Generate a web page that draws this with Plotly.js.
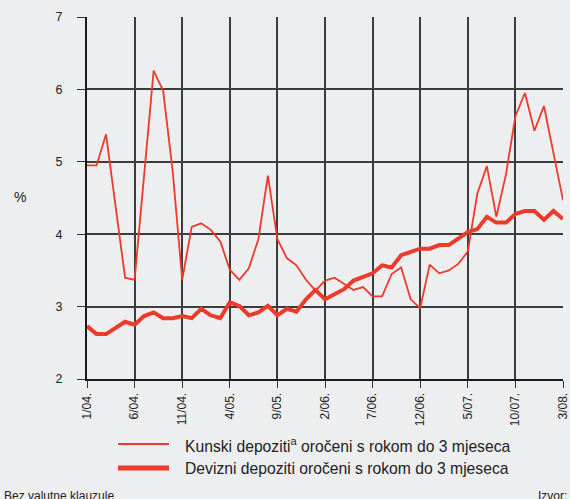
<!DOCTYPE html>
<html>
<head>
<meta charset="utf-8">
<script src="https://cdn.plot.ly/plotly-3.0.1.min.js"></script>
<style>
  html, body { margin: 0; padding: 0; background: #edeef0; }
  #chart { width: 570px; height: 499px; }
</style>
</head>
<body>
<div id="chart"></div>
<script>
const months = [
  "1/04.","2/04.","3/04.","4/04.","5/04.","6/04.","7/04.","8/04.","9/04.","10/04.","11/04.","12/04.",
  "1/05.","2/05.","3/05.","4/05.","5/05.","6/05.","7/05.","8/05.","9/05.","10/05.","11/05.","12/05.",
  "1/06.","2/06.","3/06.","4/06.","5/06.","6/06.","7/06.","8/06.","9/06.","10/06.","11/06.","12/06.",
  "1/07.","2/07.","3/07.","4/07.","5/07.","6/07.","7/07.","8/07.","9/07.","10/07.","11/07.","12/07.",
  "1/08.","2/08.","3/08."
];

const tickLabels = ["1/04.","6/04.","11/04.","4/05.","9/05.","2/06.","7/06.","12/06.","5/07.","10/07.","3/08."];
const yTicks = [2, 3, 4, 5, 6, 7];

const kunski = [
  4.95, 4.95, 5.38, 4.35, 3.40, 3.37, 4.82, 6.26, 5.98, 4.87, 3.37, 4.10,
  4.15, 4.06, 3.90, 3.51, 3.37, 3.53, 3.93, 4.81, 3.93, 3.67, 3.57, 3.37,
  3.22, 3.36, 3.40, 3.32, 3.23, 3.27, 3.14, 3.14, 3.45, 3.54, 3.10, 2.98,
  3.58, 3.46, 3.50, 3.59, 3.76, 4.56, 4.94, 4.24, 4.82, 5.63, 5.95, 5.43,
  5.77, 5.12, 4.47
];

const devizni = [
  2.73, 2.62, 2.62, 2.70, 2.79, 2.75, 2.87, 2.92, 2.84, 2.84, 2.87, 2.84,
  2.97, 2.88, 2.84, 3.06, 3.01, 2.88, 2.92, 3.01, 2.88, 2.97, 2.93, 3.10,
  3.23, 3.10, 3.17, 3.24, 3.36, 3.41, 3.46, 3.57, 3.54, 3.71, 3.76, 3.80,
  3.80, 3.85, 3.85, 3.94, 4.03, 4.07, 4.24, 4.16, 4.16, 4.28, 4.32, 4.32,
  4.20, 4.32, 4.21
];

const seriesNames = [
  "Kunski depoziti<sup>a</sup> oročeni s rokom do 3 mjeseca",
  "Devizni depoziti oročeni s rokom do 3 mjeseca"
];

const red = "#ec3a2b";
const gridCol = "#3c3c3c";
const font = "Liberation Sans, Arial, sans-serif";

const W = 570, H = 499;
const mL = 87, mR = 7, mT = 17, mB = 120;
const pw = W - mL - mR, ph = H - mT - mB;
const px = x => (x - mL) / pw;
const py = y => (H - mB - y) / ph;

const traces = [
  { x: months, y: kunski, type: "scatter", mode: "lines", name: seriesNames[0],
    line: { color: red, width: 1.8 }, hoverinfo: "skip" },
  { x: months, y: devizni, type: "scatter", mode: "lines", name: seriesNames[1],
    line: { color: red, width: 4 }, hoverinfo: "skip" }
];

const layout = {
  width: W, height: H,
  margin: { l: mL, r: mR, t: mT, b: mB },
  paper_bgcolor: "#edeef0",
  plot_bgcolor: "#edeef0",
  showlegend: false,
  font: { family: font, size: 12, color: "#222" },
  xaxis: {
    type: "category",
    categoryorder: "array",
    categoryarray: months,
    range: [0, months.length - 1],
    tickmode: "array",
    tickvals: tickLabels,
    ticktext: tickLabels,
    tickangle: -90,
    tickfont: { family: font, size: 12, color: "#222" },
    ticks: "outside", ticklen: 7, tickcolor: "#333", tickwidth: 1,
    showgrid: true, gridcolor: gridCol, gridwidth: 2,
    showline: true, linecolor: "#1a1a1a", linewidth: 2,
    zeroline: false, fixedrange: true
  },
  yaxis: {
    range: [2, 7],
    tickmode: "array",
    tickvals: yTicks,
    ticktext: yTicks.map(String),
    tickfont: { family: font, size: 12.5, color: "#222" },
    ticks: "outside", ticklen: 8, tickcolor: "#333", tickwidth: 1,
    ticklabelstandoff: 12,
    showgrid: true, gridcolor: gridCol, gridwidth: 2,
    showline: true, linecolor: "#1a1a1a", linewidth: 2,
    zeroline: false, fixedrange: true
  },
  shapes: [
    { type: "line", xref: "paper", yref: "paper", x0: px(118), x1: px(169), y0: py(444), y1: py(444),
      line: { color: red, width: 1.8 } },
    { type: "line", xref: "paper", yref: "paper", x0: px(118), x1: px(169), y0: py(468), y1: py(468),
      line: { color: red, width: 5 } }
  ],
  annotations: [
    { text: "%", xref: "paper", yref: "paper", x: px(20), y: py(197), xanchor: "center", yanchor: "middle",
      showarrow: false, font: { family: font, size: 14, color: "#222" } },
    { text: seriesNames[0], xref: "paper", yref: "paper", x: px(183), y: py(445), xanchor: "left", yanchor: "middle",
      showarrow: false, font: { family: font, size: 15.7, color: "#222" } },
    { text: seriesNames[1], xref: "paper", yref: "paper", x: px(183), y: py(469), xanchor: "left", yanchor: "middle",
      showarrow: false, font: { family: font, size: 15.7, color: "#222" } },
    { text: "Bez valutne klauzule", xref: "paper", yref: "paper", x: px(2), y: py(496), xanchor: "left", yanchor: "middle",
      showarrow: false, font: { family: font, size: 12, color: "#222" } },
    { text: "Izvor:", xref: "paper", yref: "paper", x: px(536), y: py(496), xanchor: "left", yanchor: "middle",
      showarrow: false, font: { family: font, size: 12, color: "#222" } }
  ]
};

Plotly.newPlot("chart", traces, layout, { displayModeBar: false, staticPlot: true });
</script>
</body>
</html>
